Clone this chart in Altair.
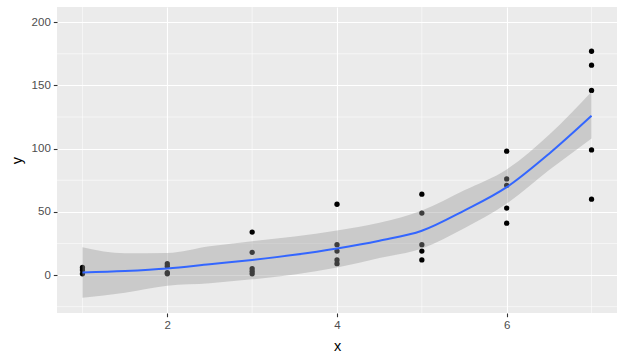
import altair as alt
import pandas as pd

# scatter data
px = [1, 1, 1,
      2, 2, 2, 2,
      3, 3, 3, 3, 3,
      4, 4, 4, 4, 4,
      5, 5, 5, 5, 5,
      6, 6, 6, 6, 6,
      7, 7, 7, 7, 7]
py = [6, 4, 1,
      9, 7, 2, 1,
      34, 18, 5, 3, 1,
      56, 24, 19, 12, 9,
      64, 49, 24, 19, 12,
      98, 76, 71, 53, 41,
      177, 166, 146, 99, 60]

# smooth (loess) fit and confidence band
sx = [1, 1.5, 2, 2.5, 3, 3.5, 4, 4.5, 5, 5.5, 6, 6.5, 7]
fit = [2, 3.2, 5.2, 8.6, 12, 16, 21, 27.2, 35, 51, 69.5, 96, 126]
lo = [-18, -14, -8.5, -6.5, -3.4, 0.5, 6, 13.5, 21, 37, 56.5, 83, 108]
hi = [22, 17.2, 17.5, 22.8, 26.8, 30.5, 35.3, 41.3, 51, 67, 83.5, 111, 145]

x_ticks = [2, 4, 6]
y_ticks = [0, 50, 100, 150, 200]
x_minor = [1, 3, 5, 7]
y_minor = [-25, 25, 75, 125, 175]

xdom = [0.7, 7.3]
ydom = [-30, 212]

pts = pd.DataFrame({"x": px, "y": py})
sm = pd.DataFrame({"x": sx, "fit": fit, "lo": lo, "hi": hi})

xs = alt.Scale(domain=xdom, nice=False, zero=False)
ys = alt.Scale(domain=ydom, nice=False, zero=False)

xax = alt.Axis(values=x_ticks, title="x", grid=True, gridColor="white", gridWidth=1.1,
               domain=False, tickColor="#333333", tickSize=3.7, tickWidth=1.1,
               labelColor="#4D4D4D", labelFontSize=11.5, labelPadding=3,
               labelFont="Liberation Sans", titleFont="Liberation Sans",
               titleFontSize=14.5, titleFontWeight="normal", titleColor="black",
               titleBaseline="middle", titleY=33)
yax = alt.Axis(values=y_ticks, title="y", grid=True, gridColor="white", gridWidth=1.1,
               domain=False, tickColor="#333333", tickSize=3.7, tickWidth=1.1,
               labelColor="#4D4D4D", labelFontSize=11.5, labelPadding=3,
               labelFont="Liberation Sans", titleFont="Liberation Sans",
               titleFontSize=14.5, titleFontWeight="normal", titleColor="black",
               titleX=-40, titleBaseline="middle", titleAlign="center")

minor_x = alt.Chart(pd.DataFrame({"v": x_minor})).mark_rule(
    color="white", strokeWidth=0.55).encode(x=alt.X("v:Q", scale=xs, axis=xax, title="x"))
minor_y = alt.Chart(pd.DataFrame({"v": y_minor})).mark_rule(
    color="white", strokeWidth=0.55).encode(y=alt.Y("v:Q", scale=ys, axis=yax, title="y"))

points = alt.Chart(pts).mark_circle(color="black", opacity=1, size=28).encode(
    x=alt.X("x:Q", scale=xs, axis=xax, title="x"),
    y=alt.Y("y:Q", scale=ys, axis=yax, title="y"),
)

band = alt.Chart(sm).mark_area(color="#999999", opacity=0.4, interpolate="monotone").encode(
    x=alt.X("x:Q", scale=xs, axis=xax, title="x"),
    y=alt.Y("lo:Q", scale=ys, axis=yax, title="y"),
    y2="hi:Q",
)

line = alt.Chart(sm).mark_line(color="#3366FF", strokeWidth=2, interpolate="monotone").encode(
    x=alt.X("x:Q", scale=xs, axis=xax, title="x"),
    y=alt.Y("fit:Q", scale=ys, axis=yax, title="y"),
)

chart = alt.layer(minor_x, minor_y, points, band, line).properties(
    width=560, height=306,
    autosize=alt.AutoSizeParams(type="none"),
    padding={"left": 57, "top": 7, "right": 7, "bottom": 44},
    background="white",
).configure_view(fill="#EBEBEB", stroke=None)

chart.save("out.html", embed_options={"renderer": "svg", "actions": False})
